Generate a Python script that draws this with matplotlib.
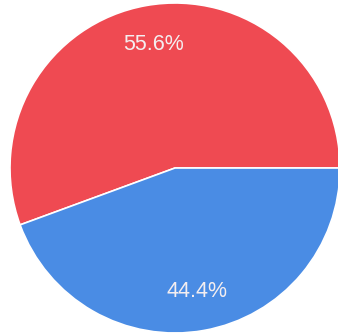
import matplotlib.pyplot as plt

labels = ['Red', 'Blue']
shares = [55.6, 44.4]
colors = ['#ef4a52', '#4a8ce4']

W, H = 338, 336
cx, cy, r = 175, 168, 165

fig = plt.figure(figsize=(W / 100, H / 100), dpi=100)
fig.patch.set_facecolor('white')
ax = fig.add_axes([(cx - r) / W, (H - cy - r) / H, 2 * r / W, 2 * r / H])

wedges, texts, autotexts = ax.pie(
    shares, colors=colors, startangle=0, counterclock=True,
    autopct='%1.1f%%', pctdistance=0.76,
    wedgeprops=dict(edgecolor='white', linewidth=1.2),
    textprops=dict(color='#f4eef0', fontsize=15.5, family=['Liberation Sans', 'DejaVu Sans']))
ax.set_xlim(-1, 1)
ax.set_ylim(-1, 1)
ax.set_aspect('equal')
ax.axis('off')

fig.savefig('out.png', dpi=100, facecolor='white')
